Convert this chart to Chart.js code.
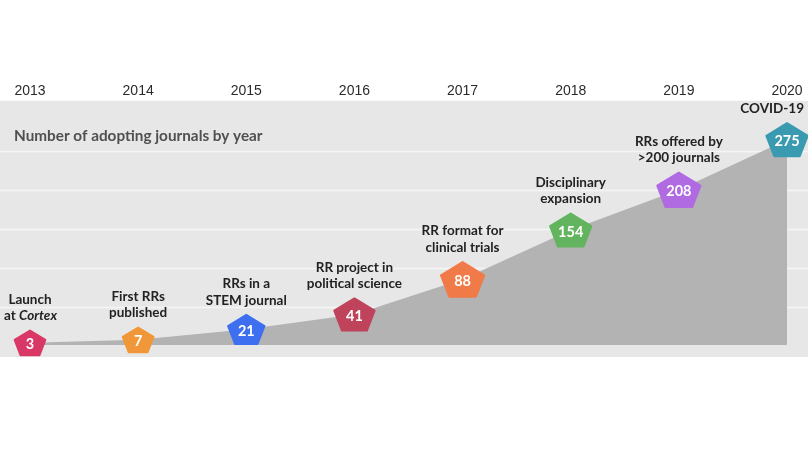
<!DOCTYPE html>
<html><head><meta charset="utf-8">
<script src="https://cdn.jsdelivr.net/npm/chart.js@4/dist/chart.umd.min.js"></script>
<style>html,body{margin:0;padding:0;background:#fff}#wrap{width:808px;height:455px;position:relative}</style>
</head><body><div id="wrap"><canvas id="c"></canvas></div>
<script>
// ---- data ----
const years = ['2013','2014','2015','2016','2017','2018','2019','2020'];
const journals = [3, 7, 21, 41, 88, 154, 208, 275];
const milestones = [
  ['Launch', 'at _Cortex_'],
  ['First RRs', 'published'],
  ['RRs in a', 'STEM journal'],
  ['RR project in', 'political science'],
  ['RR format for', 'clinical trials'],
  ['Disciplinary', 'expansion'],
  ['RRs offered by', '>200 journals'],
  ['COVID-19']
];
const chartTitle = 'Number of adopting journals by year';

// ---- style ----
const markerColors = ['#d93866','#f0973a','#3d6ff0','#c0435c','#f07a48','#63b45e','#b06ae2','#3a9bb0'];
const markerWidths = [32, 32, 38, 42, 45, 43, 45, 43];

const panelPlugin = {
  id: 'panel',
  beforeDraw(chart) {
    const {ctx, chartArea: a} = chart;
    const g = chart.scales.gridY;
    ctx.save();
    ctx.fillStyle = '#e7e7e7';
    ctx.fillRect(0, a.top, chart.width, a.bottom - a.top);
    ctx.strokeStyle = '#f5f5f5';
    ctx.lineWidth = 1.5;
    g.ticks.forEach(t => {
      if (t.value % 50 !== 0) return;
      const py = Math.round(g.getPixelForValue(t.value)) + 0.5;
      ctx.beginPath(); ctx.moveTo(0, py); ctx.lineTo(chart.width, py); ctx.stroke();
    });
    ctx.fillStyle = '#505050';
    ctx.font = 'bold 15.3px Lato';
    ctx.textBaseline = 'middle';
    ctx.textAlign = 'left';
    ctx.fillText(chartTitle, 14, a.top + 35.5);
    ctx.restore();
  }
};

function drawRich(ctx, line, cx, cy) {
  const parts = line.split('_').map((s, i) => ({s, it: i % 2 === 1})).filter(p => p.s);
  const fontFor = p => (p.it ? 'italic ' : '') + 'bold 13.5px Lato';
  let w = 0;
  parts.forEach(p => { ctx.font = fontFor(p); p.w = ctx.measureText(p.s).width; w += p.w; });
  let x = cx - w / 2;
  x = Math.min(x, ctx.canvas.width - 4 - w);
  x = Math.max(x, 4);
  parts.forEach(p => { ctx.font = fontFor(p); ctx.fillText(p.s, x, cy); x += p.w; });
}

const markerPlugin = {
  id: 'markers',
  afterDatasetsDraw(chart) {
    const ctx = chart.ctx;
    const meta = chart.getDatasetMeta(0);
    ctx.save();
    meta.data.forEach((pt, i) => {
      const w = markerWidths[i];
      const R = w / 1.902;
      const sy = 0.84;
      const h = R * 1.809 * sy;
      const top = pt.y - h / 2;
      const ccy = top + R * sy;
      ctx.beginPath();
      for (let k = 0; k < 5; k++) {
        const ang = -Math.PI / 2 + k * 2 * Math.PI / 5;
        const px = pt.x + R * Math.cos(ang) * 0.96;
        const py = ccy + R * Math.sin(ang) * sy * 0.96;
        k ? ctx.lineTo(px, py) : ctx.moveTo(px, py);
      }
      ctx.closePath();
      ctx.fillStyle = markerColors[i];
      ctx.strokeStyle = markerColors[i];
      ctx.lineJoin = 'round';
      ctx.lineWidth = 2;
      ctx.fill(); ctx.stroke();
      ctx.fillStyle = '#fff';
      ctx.font = 'bold 14.5px Lato';
      ctx.textAlign = 'center';
      ctx.textBaseline = 'middle';
      ctx.fillText(String(journals[i]), pt.x, pt.y + 2);
      // label
      ctx.fillStyle = '#222';
      ctx.textAlign = 'left';
      const lines = milestones[i];
      const lh = 16.5;
      const lastY = top - 14;
      lines.forEach((ln, j) => {
        drawRich(ctx, ln, pt.x, lastY - (lines.length - 1 - j) * lh);
      });
    });
    ctx.restore();
  }
};

new Chart(document.getElementById('c'), {
  type: 'line',
  data: {
    labels: years,
    datasets: [{
      data: journals,
      fill: 'origin',
      backgroundColor: '#b3b3b3',
      borderWidth: 0,
      pointRadius: 0,
      tension: 0,
      xAxisID: 'x',
      yAxisID: 'y'
    }]
  },
  options: {
    responsive: true,
    maintainAspectRatio: false,
    animation: false,
    events: [],
    layout: {padding: {left: 30, right: 21, top: 82, bottom: 98}},
    plugins: {legend: {display: false}, tooltip: {enabled: false}},
    scales: {
      x: {
        type: 'category',
        position: 'top',
        offset: false,
        grid: {display: false, drawTicks: false},
        border: {display: false},
        ticks: {color: '#2b2b2b', font: {family: 'Liberation Sans, Arial', size: 14}, padding: 1, maxRotation: 0, autoSkip: false}
      },
      y: {
        type: 'linear',
        axis: 'y',
        display: false,
        min: -16, max: 327
      },
      gridY: {
        type: 'linear',
        axis: 'y',
        position: 'left',
        display: false,
        min: -14, max: 314,
        ticks: {stepSize: 50}
      }
    }
  },
  plugins: [panelPlugin, markerPlugin]
});
</script>
</body></html>
